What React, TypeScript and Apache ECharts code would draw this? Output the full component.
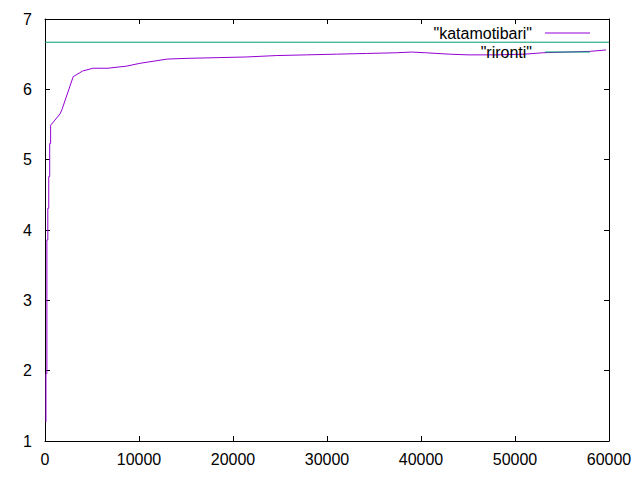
import React, { useEffect, useRef } from "react";
import * as echarts from "echarts";

const katamotibariX = [100, 100, 200, 200, 300, 300, 400, 400, 500, 500, 600, 600, 1600, 1800, 3000, 4000, 5100, 6700, 8700, 10100, 13000, 15000, 18200, 21400, 24600, 27800, 31000, 34200, 37400, 39000, 40500, 43000, 45000, 48000, 51000, 53000, 55500, 58000, 59700];
const katamotibariY = [1.27, 1.96, 1.96, 3.86, 3.86, 4.31, 4.31, 4.76, 4.76, 5.23, 5.23, 5.49, 5.65, 5.71, 6.18, 6.26, 6.3, 6.3, 6.33, 6.37, 6.43, 6.44, 6.45, 6.46, 6.48, 6.49, 6.5, 6.51, 6.52, 6.53, 6.52, 6.5, 6.49, 6.49, 6.5, 6.52, 6.53, 6.54, 6.56];
const rirontiX = [0, 60000];
const rirontiY = [6.67, 6.67];

const seriesNames = ['"katamotibari"', '"rironti"'];
const xMin = 0, xMax = 60000, xStep = 10000;
const yMin = 1, yMax = 7, yStep = 1;

const FONT = "'Liberation Sans', Arial, sans-serif";

export default function App() {
  const ref = useRef<HTMLDivElement>(null);
  useEffect(() => {
    if (!ref.current) return;
    const chart = echarts.init(ref.current, null, { renderer: "svg" });
    const axisCommon = {
      type: "value" as const,
      axisLine: { show: true, onZero: false, lineStyle: { color: "#000", width: 1 } },
      axisTick: { show: true, inside: true, length: 5, lineStyle: { color: "#000" } },
      splitLine: { show: false },
    };
    const labelCommon = { color: "#000", fontSize: 16, fontFamily: FONT, formatter: (v: number) => String(v) };
    const legendCommon = {
      right: 50, align: "right" as const, orient: "vertical" as const,
      icon: "rect", itemWidth: 45, itemHeight: 1, padding: 0,
      textStyle: { color: "#000", fontSize: 16, fontFamily: FONT, padding: [0, 8, 0, 0] },
    };
    chart.setOption({
      animation: false,
      backgroundColor: "#fff",
      textStyle: { fontFamily: FONT },
      grid: { left: 45, right: 31, top: 19, bottom: 39, containLabel: false },
      xAxis: [
        { ...axisCommon, position: "bottom", min: xMin, max: xMax, interval: xStep, axisLabel: { ...labelCommon, margin: 10 } },
        { ...axisCommon, position: "top", min: xMin, max: xMax, interval: xStep, axisLabel: { show: false } },
      ],
      yAxis: [
        { ...axisCommon, position: "left", min: yMin, max: yMax, interval: yStep, axisLabel: { ...labelCommon, margin: 13 } },
        { ...axisCommon, position: "right", min: yMin, max: yMax, interval: yStep, axisLabel: { show: false } },
      ],
      legend: [
        { ...legendCommon, data: [seriesNames[0]], top: 25 },
        { ...legendCommon, data: [seriesNames[1]], top: 44 },
      ],
      series: [
        {
          name: seriesNames[0], type: "line", symbol: "none", showSymbol: false,
          xAxisIndex: 0, yAxisIndex: 0,
          lineStyle: { color: "#9400d3", width: 1 }, itemStyle: { color: "#9400d3" },
          data: katamotibariX.map((x, i) => [x, katamotibariY[i]]),
        },
        {
          name: seriesNames[1], type: "line", symbol: "none", showSymbol: false,
          xAxisIndex: 0, yAxisIndex: 0,
          lineStyle: { color: "#009e73", width: 1 }, itemStyle: { color: "#009e73" },
          data: rirontiX.map((x, i) => [x, rirontiY[i]]),
        },
      ],
    });
    return () => chart.dispose();
  }, []);
  return <div ref={ref} style={{ position: "fixed", left: 0, top: 0, width: 640, height: 480 }} />;
}
